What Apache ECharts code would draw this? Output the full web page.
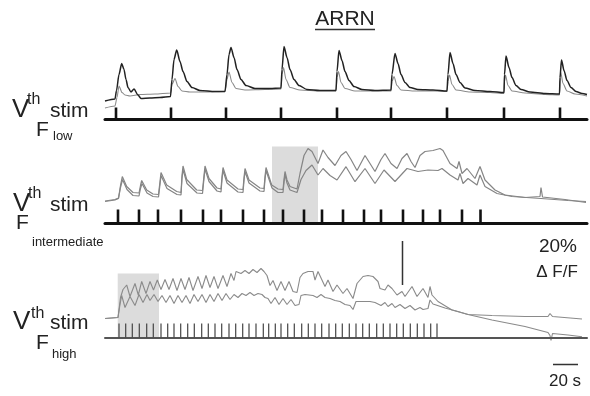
<!DOCTYPE html>
<html><head><meta charset="utf-8">
<script src="https://cdn.jsdelivr.net/npm/echarts@6/dist/echarts.min.js"></script>
<style>html,body{margin:0;padding:0;background:#fff}#c{width:590px;height:396px}</style>
</head><body><div id="c"></div>
<script>
// x: time in frames (1 frame = 0.8 s, so 25 frames = 20 s)
// y: fluorescence change in trace units (44 units = 20 % dF/F)
const stimLow = [11, 66, 121, 176, 232, 286, 342, 399, 455];
const stimInter = [13, 34, 53, 76, 98, 116, 138, 159, 178, 199, 217, 238, 259, 276, 298, 318, 335, 357, 375.5];
const stimHigh = [14, 20.7, 27.3, 34.3, 41.7, 48.3, 56, 62.7, 69, 75.7, 82.7, 89.3, 96.7, 103.3, 110, 116.7,
  124, 130.7, 137.7, 144, 151, 158.3, 163.7, 170.3, 176, 182.7, 189.3, 196.7, 203.3, 210, 216.7, 224, 230.7,
  237.3, 244.3, 251, 257.7, 264.3, 271.7, 278.3, 285, 291.7, 298.3, 305.3, 312.3, 319, 325.7, 332];

const lowDark = [[0,18.5],[10,20.5],[11.5,29],[14,45],[16.7,56],[19,50],[21,40],[23,32],[26,27.5],[29,30.5],[33,24.5],[36,21],[45,21.5],[55,22],[65.5,23],
  [67,40],[69,60],[71.7,69.5],[75,58],[78,48],[82,38],[87,32],[95,29],[110,28],[120,28],
  [122,45],[124,65],[126,72],[129,62],[132,50],[136,40],[141,34],[150,31],[165,31],[176,31.5],
  [177,50],[179,73],[182,62],[185,50],[189,40],[194,34],[202,30],[215,29],[231,29],
  [232,48],[234,69],[237,59],[240,48],[244,39],[249,33],[257,30],[270,29],[286,29.5],
  [287,45],[290,66],[293,56],[296,45],[300,37],[305,32],[313,30],[328,29.5],[342,28.5],
  [343,45],[345,67],[348,56],[351,45],[355,37],[360,31.5],[370,29],[385,28],[399,27],
  [399.5,45],[401,63.5],[404,52],[407,42],[411,34],[416,30],[425,27.5],[440,26],[454.5,25.5],
  [455,42],[456.5,59.5],[459,49],[462,39],[466,32],[471,28],[477,26],[482,25]];
const lowGray = [[0,11.5],[10,13.5],[12,22],[14,33.5],[17,27],[20,24.5],[25,23.5],[35,25],[50,25.5],[65.5,26.5],
  [67,35],[70,41],[73,33],[77,28.5],[85,27.5],[100,27.5],[120,28],
  [122,40],[124,47.5],[127,37],[131,31],[140,29.5],[160,30],[176,30.5],
  [177,45],[178.5,52],[181,40],[185,32],[195,29.5],[215,28.5],[231,28.5],
  [232,42],[233.5,48],[236,37],[240,31],[250,28.5],[270,28.5],[286,28.5],
  [287,38],[289,43],[292,34],[296,29.5],[310,28.5],[330,28.5],[342,28],
  [343,38],[344.5,44.5],[347,35],[351,29.5],[365,27.5],[385,27],[399,26],
  [399.5,38],[400.5,44.5],[403,34],[407,28.5],[420,26.5],[440,25],[454.5,24.5],
  [455,40],[455.8,47],[458,36],[462,28.5],[470,25.5],[482,23.5]];

const interA = [[0,22.5],[10,24],[13.5,25.5],[15.5,38],[17.3,47],[21.7,37],[28,31],[34,30.5],
  [35.5,38],[36.7,43],[41.7,33.5],[48,29.5],[53.5,29],[55,42],[56,51],[61.7,38.5],[71.7,32],[76,31],
  [77,48],[78,57.5],[81.7,44],[91.7,33.5],[97.5,33],[99,48],[100,57.5],[104,45],[112,35.5],[116,34.5],
  [117,47],[118,56],[122,43.5],[133,34.5],[138,34],[139,46],[140,55],[144,43.5],[155,35.5],[159,35],
  [160,47],[161,56],[166.7,38.5],[173,34.5],[178,34],[179,44],[180,52],[182,43.5],[185,37],[192,34.5],
  [195,50],[199,68],[203,75],[207,72],[213,60],[218,73.5],[223,66],[230,58],[236,68],[241,72],[246,64],
  [252,53],[260,68],[265,60],[270,52],[276,64],[280,70],[286,60],[292,55],[297,65],[302,70],[306,62],
  [310,56],[315,68],[320,72],[328,73],[335,75],[338,73],[345,60],[352,55],[354,62],[357,50],[362,55],
  [370,45],[375,57],[380,43.5],[390,33.5],[400,28.5],[420,26],[435,27],[436,36],[437.5,26.5],[460,24],[481,21]];
const interB = [[0,22],[10,23.5],[13.5,25],[15.5,36],[17.5,44],[22,34],[28,28],[34,27.5],[35.5,35],[37,40],
  [42,30.5],[48,27],[53.5,26.5],[55,39],[56,48],[62,35],[72,29],[76,28.5],[77,45],[78,54],[82,40],[92,30.5],
  [97.5,30],[99,45],[100,54.5],[104,42],[112,32.5],[116,31.5],[117,44],[118,53],[122,40.5],[133,31.5],[138,31],
  [139,43],[140,52],[144,40.5],[155,32.5],[159,32],[160,44],[161,53],[167,35.5],[173,31],[178,31],[179,41],
  [180,49],[182,40.5],[185,33.5],[192,31],[196,44],[201,53],[207,58.5],[213,48.5],[218,55],[225,48],[232,43.5],
  [241,56.8],[250,41.8],[260,55],[270,40],[279,53.5],[290,42],[302,55],[313,52],[323,53.5],[333,53],[337,55],
  [345,48.5],[353,43.5],[355,50],[358,40],[363,45],[372,38.5],[375,48.5],[380,37],[392,30],[407,27],[436,25],
  [463,23],[481,22]];

const highUpper = [[0,19],[13,20],[15.5,40],[18,48],[21.7,52.5],[25,41],[30,54],[33.3,42.5],[36.7,56],[41,44],
  [45,56],[48.5,47.5],[52.3,57.5],[56,48],[60,58],[64,48],[68,59],[72,47],[76,59],[80,48],[84,60],[88,47],
  [93,61],[97,49],[101,62],[105,50],[109,61],[113,49],[118,62],[122,51],[126,64],[129,57],[131,66],[136,64],
  [140,67],[144,64],[148,68],[152,65],[156,69],[159,66],[162,62],[165,52],[168,57],[172,47],[176,56],[180,47],
  [184,56],[188,46],[192,45],[195,60],[198,64],[203,66],[208,66],[210,57.5],[213,66],[220,51],[223,57.5],
  [228,46],[232,52.5],[238,44],[242,49],[248,39],[252,54],[258,61],[263,62],[268,61],[273,56],[275,49],
  [280,47.5],[283,52.5],[287,49],[292,42.5],[297,46],[300,41],[307,51],[312,41],[318,49],[323,40],[325,51],
  [327,42.5],[333,36],[347,27.5],[363,23],[387,17.5],[420,11],[443,5],[445,2],[446,-3],[447.5,4],[463,2.5],[477,0.8]];
const highLower = [[0,19],[13,20],[15,33],[16.7,42],[20,30],[25,41],[30,32],[34,43],[38,35],[42,43],[45,37],
  [49,43],[53,36],[57,42],[61,35],[65,42],[69,34],[73,42],[77,35],[81,42],[85,34],[89,43],[93,36],[97,43],
  [101,35],[105,43],[109,36],[113,44],[117,37],[121,44],[125,38],[129,43],[133,40],[137,44],[141,42],[145,45],
  [149,42],[153,44],[157,43],[160,40],[163,39],[166,34],[170,40],[174,33],[178,39],[182,33],[186,38],[190,32],
  [194,33],[196,42],[200,43],[208,42],[212,40],[216,43],[220,40],[225,39],[230,37],[235,36],[240,33],[245,32],
  [248,28],[251,36],[258,36],[265,36],[270,35],[276,32],[280,35],[283,31],[287,34],[290,30],[295,33],[300,29],
  [305,32],[310,27.5],[315,30],[318,28],[323,29],[325,37.5],[328,33.5],[340,29.5],[353,26],[363,23],[387,22],
  [420,21],[443,21],[445,24],[446,25],[447.5,21],[477,18.5]];

const shadeInterX = [167, 213];
const shadeInterTop = 77;
const shadeHighX = [12.7, 54];
const shadeHighTop = 64;
const scaleBarTime = [448, 473];   // 25 frames = 20 s
const scaleBarTimeLevel = -27;
const scaleBarAmp = [52.5, 96.5];  // 44 units = 20 % dF/F
const scaleBarAmpTime = 297.5;

const FONT = '"Liberation Sans", Arial, Helvetica, sans-serif';
const chart = echarts.init(document.getElementById('c'), null, {renderer: 'canvas'});

const grids = [
  {left: 105, width: 482, top: 39.5, height: 80},
  {left: 105, width: 482, top: 143.5, height: 80},
  {left: 105, width: 482, top: 237.5, height: 130}
];
const yRanges = [[0, 80], [0, 80], [-30, 100]];
const lineStyles = [{color: '#111', width: 3}, {color: '#111', width: 3}, {color: '#555', width: 2}];

function ticks(idx, data, h, color, w) {
  return {
    type: 'custom', xAxisIndex: idx, yAxisIndex: idx, z: 6, silent: true,
    data: data.map(t => [t, 0]),
    renderItem: function (params, api) {
      const p0 = api.coord([api.value(0), 0]);
      const p1 = api.coord([api.value(0), h]);
      return {type: 'line', shape: {x1: p0[0], y1: p0[1], x2: p1[0], y2: p1[1]},
        style: {stroke: color, lineWidth: w}};
    }
  };
}
function trace(idx, data, color, w, extra) {
  return Object.assign({
    type: 'line', xAxisIndex: idx, yAxisIndex: idx, data: data, symbol: 'none', silent: true,
    lineStyle: {color: color, width: w}, z: 3
  }, extra || {});
}
function shade(x, top) {
  return {silent: true, itemStyle: {color: '#dcdcdc'},
    data: [[{coord: [x[0], 0]}, {coord: [x[1], top]}]]};
}
function txt(text, x, y, size, align) {
  return {type: 'text', x: x, y: y, silent: true,
    style: {text: text, font: size + 'px ' + FONT, fill: '#222',
      align: align || 'left', verticalAlign: 'middle',
      textAlign: align || 'left', textVerticalAlign: 'middle'}};
}
const smooth1 = {smooth: 0.25, smoothMonotone: 'x'};

const option = {
  animation: false,
  backgroundColor: '#fff',
  grid: grids,
  xAxis: grids.map((g, i) => ({
    type: 'value', gridIndex: i, min: 0, max: 482, z: 5,
    axisLine: {show: true, onZero: true, lineStyle: lineStyles[i]},
    axisTick: {show: false}, axisLabel: {show: false}, splitLine: {show: false}
  })),
  yAxis: grids.map((g, i) => ({
    type: 'value', gridIndex: i, min: yRanges[i][0], max: yRanges[i][1], show: false,
    splitLine: {show: false}
  })),
  series: [
    trace(0, lowGray, '#8a8a8a', 1.1, smooth1),
    trace(0, lowDark, '#222', 1.5, smooth1),
    ticks(0, stimLow, 12, '#111', 2.6),
    trace(1, interA, '#858585', 1.2, {markArea: shade(shadeInterX, shadeInterTop)}),
    trace(1, interB, '#858585', 1.2),
    ticks(1, stimInter, 14, '#111', 2.6),
    trace(2, highUpper, '#8a8a8a', 1.1, {markArea: shade(shadeHighX, shadeHighTop)}),
    trace(2, highLower, '#8a8a8a', 1.1),
    ticks(2, stimHigh, 14, '#444', 1.2),
    {type: 'line', xAxisIndex: 2, yAxisIndex: 2, symbol: 'none', silent: true, z: 4,
      data: scaleBarAmp.map(v => [scaleBarAmpTime, v]), lineStyle: {color: '#333', width: 1.5}},
    {type: 'line', xAxisIndex: 2, yAxisIndex: 2, symbol: 'none', silent: true, z: 4,
      data: scaleBarTime.map(t => [t, scaleBarTimeLevel]), lineStyle: {color: '#333', width: 1.5}}
  ],
  graphic: [
    txt('ARRN', 345, 19, 21, 'center'),
    {type: 'line', silent: true, shape: {x1: 315, y1: 29.5, x2: 375, y2: 29.5}, style: {stroke: '#333', lineWidth: 1.5}},
    // panel 1 label
    txt('V', 12, 109.5, 26), txt('th', 27, 99.5, 16), txt('stim', 50, 111, 21),
    txt('F', 36, 130, 21), txt('low', 53, 136, 13),
    // panel 2 label
    txt('V', 13, 203.5, 26), txt('th', 28, 193.5, 16), txt('stim', 50, 205, 21),
    txt('F', 16, 223, 21), txt('intermediate', 32, 242, 13),
    // panel 3 label
    txt('V', 13, 321.5, 26), txt('th', 31, 313.5, 16), txt('stim', 50, 323, 21),
    txt('F', 36, 343, 21), txt('high', 52, 354, 13),
    // scale bar labels
    txt('20%', 558, 247, 19, 'center'),
    txt('\u0394 F/F', 557, 272, 17, 'center'),
    txt('20 s', 565, 381, 17, 'center')
  ]
};
chart.setOption(option);
</script>
</body></html>
